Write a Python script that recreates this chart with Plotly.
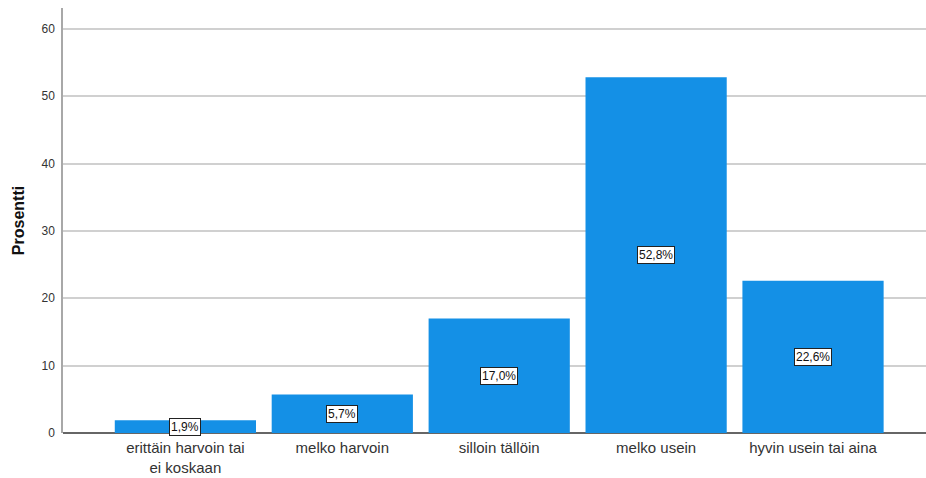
import plotly.graph_objects as go

categories = ["erittäin harvoin tai<br>ei koskaan", "melko harvoin", "silloin tällöin",
              "melko usein", "hyvin usein tai aina"]
percent = [1.9, 5.7, 17.0, 52.8, 22.6]
value_labels = ["1,9%", "5,7%", "17,0%", "52,8%", "22,6%"]
y_ticks = [0, 10, 20, 30, 40, 50, 60]

FONT = "Liberation Sans, Arial, sans-serif"
BAR_COLOR = "#1490E6"

fig = go.Figure()
fig.add_trace(go.Bar(
    x=list(range(len(categories))),
    y=percent,
    marker=dict(color=BAR_COLOR, line=dict(width=0)),
    hoverinfo="skip",
))

# Boxed percentage labels at the vertical middle of each bar
for i, (v, lab) in enumerate(zip(percent, value_labels)):
    fig.add_annotation(
        x=i, y=v / 2, text=lab, showarrow=False,
        font=dict(family=FONT, size=12, color="#111111"),
        bgcolor="white", bordercolor="#222222", borderwidth=1, borderpad=1,
    )

fig.update_layout(
    width=926, height=478,
    margin=dict(l=63, r=0, t=8, b=45),
    paper_bgcolor="white", plot_bgcolor="white",
    bargap=0.1,
    showlegend=False,
    font=dict(family=FONT, color="#333333"),
)

fig.update_xaxes(
    range=[-0.78, 4.72],
    tickmode="array",
    tickvals=list(range(len(categories))),
    ticktext=categories,
    tickfont=dict(family=FONT, size=15, color="#333333"),
    ticklabelstandoff=4,
    automargin=False,
    showgrid=False,
    showline=False,
    zeroline=False,
    ticks="",
)

fig.update_yaxes(
    range=[0, 63.1],
    tickmode="array",
    tickvals=y_ticks,
    tickfont=dict(family=FONT, size=12, color="#333333"),
    ticklabelstandoff=4,
    automargin=False,
    showgrid=True, gridcolor="#D0D0D0", gridwidth=1.5,
    showline=True, linecolor="#A8A8A8", linewidth=1.5,
    zeroline=True, zerolinecolor="#666666", zerolinewidth=1.5,
    ticks="", ticklen=0,
    title=dict(text="<b>Prosentti</b>", font=dict(family=FONT, size=16, color="#111111"), standoff=13),
)

fig.write_html("out.html")
